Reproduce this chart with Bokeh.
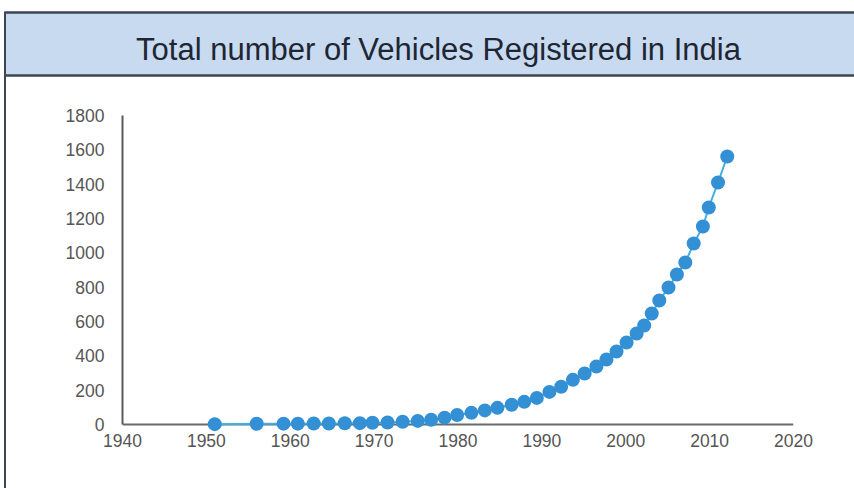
from bokeh.plotting import figure
from bokeh.layouts import column, row
from bokeh.models import FixedTicker, Range1d, Span
from bokeh.core.properties import value
from bokeh.embed import file_html
from bokeh.resources import INLINE

# ---------------- data ----------------
title_text = "Total number of Vehicles Registered in India"
years = [1951.0, 1956.0, 1959.2, 1960.9, 1962.8, 1964.6, 1966.5, 1968.3, 1969.8,
         1971.6, 1973.4, 1975.2, 1976.8, 1978.4, 1979.9, 1981.6, 1983.2, 1984.7,
         1986.4, 1987.9, 1989.4, 1990.9, 1992.3, 1993.7, 1995.1, 1996.5, 1997.7,
         1998.9, 2000.1, 2001.3, 2002.2, 2003.1, 2004.0, 2005.1, 2006.1, 2007.1,
         2008.1, 2009.2, 2009.9, 2011.0, 2012.1]
vehicles = [2, 4, 5, 5, 6, 6, 7, 8, 10,
            12, 16, 21, 28, 40, 55, 68, 82, 97,
            115, 132, 155, 190, 220, 260, 297, 338, 379,
            425, 478, 530, 577, 647, 722, 798, 874, 944,
            1054, 1153, 1264, 1410, 1561]
x_ticks = [1940, 1950, 1960, 1970, 1980, 1990, 2000, 2010, 2020]
y_ticks = [0, 200, 400, 600, 800, 1000, 1200, 1400, 1600, 1800]

# ---------------- styling ----------------
W, H = 854, 488
HEAD_H = 78
SHIFT = 6           # left margin + border of the lower panel
BORDER = "#3d4452"
FONT = "Liberation Sans"

# header band with title
head = figure(width=W, height=HEAD_H, x_range=Range1d(0, W), y_range=Range1d(HEAD_H, 0),
              output_backend="svg", toolbar_location=None, min_border=0,
              x_axis_location=None, y_axis_location=None)
head.grid.visible = False
head.outline_line_color = None
head.background_fill_color = "white"
head.border_fill_color = "white"
head.quad(left=[5], right=[W], top=[12], bottom=[75], fill_color="#c8daf0", line_color=None)
head.segment(x0=[5, 5], y0=[12, 75], x1=[W, W], y1=[12, 75], line_color=BORDER, line_width=2.5)
head.segment(x0=[4.5], y0=[11], x1=[4.5], y1=[HEAD_H], line_color=BORDER, line_width=2)
head.text(x=[438], y=[49], text=[title_text], text_font=value(FONT),
          text_font_size="31px", text_color="#1e2533", text_align="center",
          text_baseline="alphabetic")

# main chart
y_pad = 8 * 1800 / 309.0
frame_left, frame_right = 122, 793
p = figure(width=W - SHIFT, height=H - HEAD_H,
           x_range=Range1d(1940, 2020), y_range=Range1d(-y_pad, 1800),
           output_backend="svg", toolbar_location=None,
           min_border_left=frame_left - SHIFT, min_border_right=W - frame_right,
           min_border_top=115 - HEAD_H, min_border_bottom=(H - HEAD_H) - (115 - HEAD_H) - 317)
p.styles = {"margin-left": "4px", "border-left": "2px solid " + BORDER}
p.grid.visible = False
p.outline_line_color = None

p.xaxis.ticker = FixedTicker(ticks=x_ticks)
p.yaxis.ticker = FixedTicker(ticks=y_ticks)
p.yaxis.bounds = (0, 1800)
for ax in (p.xaxis, p.yaxis):
    ax.major_tick_line_color = None
    ax.minor_tick_line_color = None
    ax.major_label_text_font = FONT
    ax.major_label_text_font_size = "17.5px"
    ax.major_label_text_color = "#555555"
p.yaxis.axis_line_color = "#5a5a5a"
p.yaxis.axis_line_width = 2
p.yaxis.major_label_standoff = 12
p.xaxis.axis_line_color = None
p.xaxis.major_label_standoff = -5

p.add_layout(Span(location=0, dimension="width", line_color="#6a6a6a", line_width=2,
                  level="underlay"))

p.line(years, vehicles, line_color="#41aee6", line_width=2)
p.scatter(years, vehicles, size=14, fill_color="#3490d4", line_color=None)

layout = column(head, row(p, spacing=0), spacing=0)
open("out.html", "w").write(file_html(layout, INLINE))
